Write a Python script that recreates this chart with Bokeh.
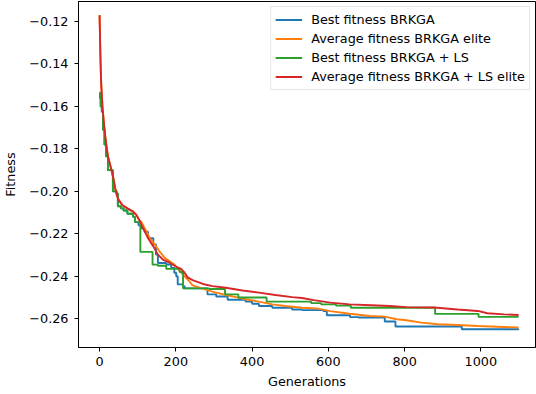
from bokeh.plotting import figure
from bokeh.models import Range1d, FixedTicker, CustomJSTickFormatter
from bokeh.embed import file_html
from bokeh.resources import INLINE

# ---- data ----
best_brkga_gen = [0, 1, 3, 6, 9, 13, 17, 22, 35, 45, 48, 56, 63, 73, 88, 93, 102, 110, 118, 127,
                  141, 148, 153, 175, 188, 196, 201, 205, 219, 223, 283, 306, 336, 383, 400, 418,
                  453, 505, 531, 587, 596, 657, 679, 748, 776, 950, 1099]
best_brkga_fit = [-0.1535, -0.156, -0.160, -0.1625, -0.171, -0.178, -0.1835, -0.190, -0.200, -0.201,
                  -0.207, -0.208, -0.209, -0.2105, -0.212, -0.2145, -0.216, -0.2175, -0.219, -0.222,
                  -0.225, -0.2298, -0.2337, -0.2344, -0.236, -0.2383, -0.240, -0.2438, -0.2446,
                  -0.2457, -0.2485, -0.2495, -0.251, -0.2519, -0.2529, -0.254, -0.2548, -0.2556,
                  -0.2559, -0.2564, -0.2583, -0.2592, -0.2594, -0.2613, -0.2636, -0.2649, -0.2651]

avg_brkga_gen = [0, 1, 2, 3, 4, 6, 8, 11, 14, 18, 22, 27, 32, 37, 41, 45, 50, 60, 73, 88, 97,
                 105, 109, 118, 132, 145, 157, 171, 184, 196, 218, 235, 244, 271, 296, 331, 358,
                 383, 418, 453, 487, 531, 570, 605, 656, 709, 748, 779, 805, 844, 887, 939, 992, 1099]
avg_brkga_fit = [-0.117, -0.125, -0.134, -0.1415, -0.148, -0.155, -0.161, -0.167, -0.1727, -0.1785,
                 -0.1835, -0.187, -0.1905, -0.1945, -0.1985, -0.2015, -0.204, -0.2065, -0.208,
                 -0.2095, -0.2112, -0.2138, -0.2141, -0.2172, -0.222, -0.225, -0.2282, -0.2313,
                 -0.2329, -0.2344, -0.2391, -0.2422, -0.2443, -0.2458, -0.2472, -0.2488, -0.2498,
                 -0.2508, -0.2519, -0.2532, -0.254, -0.2548, -0.2551, -0.2564, -0.2576, -0.2587,
                 -0.259, -0.2602, -0.2607, -0.2618, -0.2626, -0.2629, -0.2634, -0.2641]

best_ls_gen = [0, 1, 3, 6, 9, 13, 17, 22, 35, 45, 48, 56, 63, 73, 88, 93, 107, 139, 153, 175,
               210, 219, 288, 329, 364, 438, 555, 581, 620, 659, 880, 994, 1099]
best_ls_fit = [-0.1535, -0.156, -0.160, -0.1625, -0.171, -0.178, -0.1835, -0.190, -0.200, -0.201,
               -0.207, -0.208, -0.209, -0.2105, -0.212, -0.2145, -0.2285, -0.2345, -0.235, -0.2365,
               -0.238, -0.2457, -0.246, -0.2485, -0.250, -0.2519, -0.2526, -0.2532, -0.2538,
               -0.2548, -0.2577, -0.2591, -0.2591]

avg_ls_gen = [0, 1, 2, 3, 4, 6, 8, 11, 14, 18, 22, 27, 32, 37, 41, 45, 50, 60, 73, 88, 97, 105,
              114, 127, 141, 153, 166, 184, 201, 214, 223, 231, 244, 271, 296, 331, 375, 418, 461,
              505, 531, 562, 605, 656, 713, 761, 805, 878, 939, 992, 1017, 1061, 1099]
avg_ls_fit = [-0.117, -0.125, -0.134, -0.1415, -0.148, -0.155, -0.161, -0.167, -0.1727, -0.1785,
              -0.1835, -0.187, -0.1905, -0.1945, -0.1985, -0.2015, -0.204, -0.2065, -0.208,
              -0.2095, -0.2112, -0.2138, -0.2172, -0.222, -0.2259, -0.2298, -0.2321, -0.2336,
              -0.2355, -0.2365, -0.2383, -0.2405, -0.2418, -0.2436, -0.2446, -0.2454, -0.2467,
              -0.2477, -0.2488, -0.2498, -0.2502, -0.2512, -0.2524, -0.2532, -0.2536, -0.254,
              -0.2545, -0.2547, -0.2556, -0.2563, -0.2574, -0.2579, -0.2582]

x_ticks = [0, 200, 400, 600, 800, 1000]
y_ticks = [-0.26, -0.24, -0.22, -0.20, -0.18, -0.16, -0.14, -0.12]

labels = ["Best fitness BRKGA", "Average fitness BRKGA elite",
          "Best fitness BRKGA + LS", "Average fitness BRKGA + LS elite"]
colors = ["#1f77b4", "#ff7f0e", "#2ca02c", "#d62728"]

FONT = "DejaVu Sans"
FS = "12.8px"

p = figure(width=536, height=394, output_backend="svg", toolbar_location=None,
           x_range=Range1d(-55.2, 1143.3), y_range=Range1d(-0.27352, -0.11058),
           min_border_left=75, min_border_right=1, min_border_top=1, min_border_bottom=47)

p.background_fill_color = "white"
p.border_fill_color = "white"
p.outline_line_color = "black"
p.outline_line_alpha = 1.0
p.outline_line_width = 1
p.xgrid.visible = False
p.ygrid.visible = False

lw = 1.9
p.step(best_brkga_gen, best_brkga_fit, mode="after", line_color=colors[0], line_width=lw,
       legend_label=labels[0])
p.line(avg_brkga_gen, avg_brkga_fit, line_color=colors[1], line_width=lw, legend_label=labels[1])
p.step(best_ls_gen, best_ls_fit, mode="after", line_color=colors[2], line_width=lw,
       legend_label=labels[2])
p.line(avg_ls_gen, avg_ls_fit, line_color=colors[3], line_width=lw, legend_label=labels[3])

p.xaxis.ticker = FixedTicker(ticks=x_ticks)
p.yaxis.ticker = FixedTicker(ticks=y_ticks)
p.yaxis.formatter = CustomJSTickFormatter(code="return tick.toFixed(2).replace('-', '\\u2212');")

for ax in (p.xaxis[0], p.yaxis[0]):
    ax.axis_line_color = "black"
    ax.major_tick_line_color = "black"
    ax.minor_tick_line_color = None
    ax.major_tick_out = 4
    ax.major_tick_in = 0
    ax.major_label_text_font = FONT
    ax.major_label_text_font_size = FS
    ax.major_label_text_color = "black"
    ax.axis_label_text_font = FONT
    ax.axis_label_text_font_size = FS
    ax.axis_label_text_font_style = "normal"
    ax.axis_label_text_color = "black"

p.xaxis.axis_label = "Generations"
p.yaxis.axis_label = "Fitness"
p.xaxis.major_label_standoff = 5
p.yaxis.major_label_standoff = 6
p.xaxis.axis_label_standoff = 5
p.yaxis.axis_label_standoff = 8

lg = p.legend[0]
lg.location = "top_right"
lg.border_line_color = "#cccccc"
lg.border_line_width = 1
lg.background_fill_color = "white"
lg.background_fill_alpha = 0.8
lg.label_text_font = FONT
lg.label_text_font_size = FS
lg.label_text_color = "black"
lg.glyph_width = 27
lg.glyph_height = 17
lg.label_height = 17
lg.label_standoff = 9
lg.spacing = 2
lg.padding = 4
lg.margin = 5

open("out.html", "w").write(file_html(p, INLINE))
